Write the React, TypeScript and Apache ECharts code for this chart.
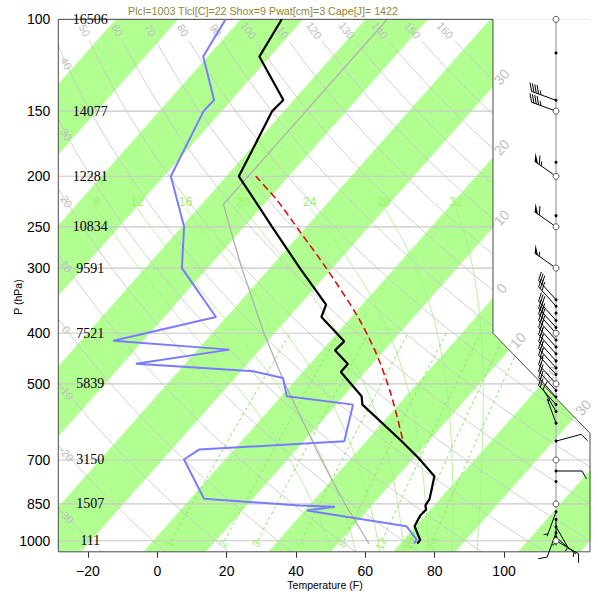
import React, { useEffect, useRef } from "react";
import * as echarts from "echarts";

// ---------------- data ----------------
const TITLE = "Plcl=1003 Tlcl[C]=22 Shox=9 Pwat[cm]=3 Cape[J]= 1422";
const PRESSURE_TICKS = [100, 150, 200, 250, 300, 400, 500, 700, 850, 1000];
const HEIGHT_LABELS = ["16506", "14077", "12281", "10834", "9591", "7521", "5839", "3150", "1507", "111"];
const TEMP_TICKS_F = [-20, 0, 20, 40, 60, 80, 100];

// sounding temperature (hPa, degC)
const TEMP_P = [100, 117.9, 142.8, 150, 200, 250, 300, 352.6, 372.3, 414.6, 431.4, 458.1, 474.5, 528.5, 548.2, 644.5, 693.4, 752, 833.4, 855.7, 871, 894.5, 937.6, 997.3, 1012];
const TEMP_C = [-73.4, -71.7, -61.7, -61.9, -58.0, -45.5, -35.2, -25.8, -24.8, -17.7, -17.9, -13.9, -13.9, -7.1, -5.8, 5.7, 10.7, 15.9, 18.4, 18.6, 19.3, 19.2, 19.8, 22.7, 22.7];
// dew point
const DEW_P = [100, 117.9, 142.8, 150, 200, 250, 300, 372.3, 413.3, 430, 457.5, 473.3, 487.3, 528.5, 548.2, 644.5, 668.5, 698.6, 830.9, 855.7, 860.7, 875, 937.6, 994.3, 1012];
const DEW_C = [-82.4, -80.7, -72.8, -72.9, -68.9, -59.6, -54.1, -41.7, -54.8, -34.9, -47.9, -28.0, -22.3, -19.1, -7.3, -3.5, -25.6, -26.6, -17.8, -1.5, 4.3, 0.3, 18.5, 22.0, 22.2];
// lifted parcel
const PARCEL_P = [200, 221.9, 255.2, 297.8, 368.5, 439.6, 528.5, 649];
const PARCEL_C = [-55.3, -48.6, -40.4, -31.4, -19.5, -10.6, -2.3, 6.2];
// standard atmosphere
const STD_P = [1013.25, 1000, 850, 700, 500, 400, 300, 250, 226.3, 200, 150, 100];
const STD_C = [15.0, 14.3, 5.5, -4.5, -21.2, -31.7, -44.5, -52.3, -56.5, -56.5, -56.5, -56.5];

// background families
const BAND_LOW_C = [-120, -100, -80, -60, -40, -20, 0, 20, 40];
const THETA_C = [-30, -20, -10, 0, 10, 20, 30, 40, 50, 60, 70, 80, 90, 100, 110, 120, 130, 140, 150, 160];
const MOIST_C = [8, 12, 16, 20, 24, 28, 32];
const MIXR = [1, 2, 3, 5, 8, 12, 16, 20];
const ISO_LABEL_C = [-30, -20, -10, 0, 10, 20, 30];

// winds (hPa, direction deg, speed kt)
const WIND_P = [100, 116, 143, 150, 188, 200, 238, 250, 300, 345, 355, 366, 378, 390, 400, 412, 425, 438, 452, 466, 480, 500, 515, 530, 548, 565, 595, 644, 700, 735, 770, 850, 880, 910, 940, 965, 985, 1000];
const WIND_DIR = [0, 0, 290, 290, 0, 305, 0, 305, 305, 318, 318, 318, 318, 318, 318, 318, 318, 318, 318, 318, 318, 318, 318, 318, 318, 330, 340, 75, 0, 90, 0, 0, 200, 180, 150, 200, 130, 120];
const WIND_KT = [0, 0, 45, 45, 0, 65, 0, 60, 55, 30, 30, 0, 30, 30, 30, 30, 25, 25, 25, 25, 25, 20, 20, 20, 20, 10, 5, 10, 0, 10, 0, 0, 5, 5, 5, 10, 5, 10];

// ---------------- geometry helpers ----------------
const X_MIN = -28.55;
const X_MAX = 124.8;
const X_CUT = 96.82;
const P_CORNER_A = 400;
const P_CORNER_B = 622;
const STAFF_X = 115.0;
const HEIGHT_LABEL_X = -19.3;
const LN_TOP = Math.log(100);
const LN_BOT = Math.log(1050);
const SKEW = 57.85;
const xOf = (tc: number, p: number) => tc * 1.8 + 32 + SKEW * Math.log(1050 / p);

const geomP = (p0: number, p1: number, n: number) => {
  const out: number[] = [];
  const a = Math.log(p0), b = Math.log(p1);
  for (let i = 0; i <= n; i++) out.push(Math.exp(a + ((b - a) * i) / n));
  return out;
};

const dTdlnp = (T: number, p: number) => {
  const tc = T - 273.15;
  const es = 6.112 * Math.exp((17.67 * tc) / (tc + 243.5));
  const rs = (0.622 * es) / (p - es);
  const Lv = 2.501e6, Rd = 287.04, cp = 1005.7;
  return (Rd * T + Lv * rs) / (cp + (Lv * Lv * rs * 0.622) / (Rd * T * T));
};
const stepT = (T: number, lp: number, h: number) => {
  const k1 = dTdlnp(T, Math.exp(lp));
  const k2 = dTdlnp(T + 0.5 * h * k1, Math.exp(lp + 0.5 * h));
  const k3 = dTdlnp(T + 0.5 * h * k2, Math.exp(lp + 0.5 * h));
  const k4 = dTdlnp(T + h * k3, Math.exp(lp + h));
  return T + (h * (k1 + 2 * k2 + 2 * k3 + k4)) / 6;
};
const moistProfile = (t1000: number, pList: number[]) => {
  let T = t1000 + 273.15;
  let lp = Math.log(1000);
  const out: number[] = [];
  for (const p of pList) {
    const target = Math.log(p);
    const n = Math.max(1, Math.ceil(Math.abs(target - lp) / 0.01));
    const h = (target - lp) / n;
    for (let i = 0; i < n; i++) {
      T = stepT(T, lp, h);
      lp += h;
    }
    out.push(T - 273.15);
  }
  return out;
};
const tmrC = (w: number, p: number) => {
  const x = Math.log10((w * p) / (622 + w));
  const tk = Math.pow(10, 0.0498646455 * x + 2.4082965) - 7.07475 + 38.9114 * Math.pow(Math.pow(10, 0.0915 * x) - 1.2035, 2);
  return tk - 273.15;
};
const dryT = (thC: number, p: number) => (thC + 273.15) * Math.pow(p / 1000, 0.2857) - 273.15;

const segInt = (p1: number[], p2: number[], p3: number[], p4: number[]) => {
  const d = (p2[0] - p1[0]) * (p4[1] - p3[1]) - (p2[1] - p1[1]) * (p4[0] - p3[0]);
  if (Math.abs(d) < 1e-9) return null;
  const t = ((p3[0] - p1[0]) * (p4[1] - p3[1]) - (p3[1] - p1[1]) * (p4[0] - p3[0])) / d;
  const u = ((p3[0] - p1[0]) * (p2[1] - p1[1]) - (p3[1] - p1[1]) * (p2[0] - p1[0])) / d;
  if (t < 0 || t > 1 || u < 0 || u > 1) return null;
  return [p1[0] + t * (p2[0] - p1[0]), p1[1] + t * (p2[1] - p1[1])];
};

const fmtNum = (v: number) => (v < 0 ? "\u2212" + Math.abs(v) : String(v));

const GREEN_BAND = "#b0ff90";
const GRAY_LINE = "#c4c4c4";
const GRAY_LABEL = "#c0c0c0";
const GREEN_LINE = "#a8ec8c";
const GREEN_DASH = "#86e65a";
const GREEN_LABEL = "#9cf06a";
const MOIST_TOP = 230;
const MOIST_LABEL_P = 224;

function buildOption(): any {
  const idx = (arr: any[]) => arr.map((_, i) => [i]);
  const series: any[] = [];

  series.push({
    type: "custom", coordinateSystem: "cartesian2d", z: 1, clip: true, silent: true,
    data: idx(BAND_LOW_C),
    renderItem: (params: any, api: any) => {
      const t1 = BAND_LOW_C[api.value(0)], t2 = t1 + 10;
      const pts = [
        api.coord([xOf(t1, 1050), LN_BOT]), api.coord([xOf(t2, 1050), LN_BOT]),
        api.coord([xOf(t2, 100), LN_TOP]), api.coord([xOf(t1, 100), LN_TOP]),
      ];
      return { type: "polygon", shape: { points: pts }, style: { fill: GREEN_BAND } };
    },
  });

  series.push({
    type: "custom", coordinateSystem: "cartesian2d", z: 2, clip: true, silent: true,
    data: idx(PRESSURE_TICKS),
    renderItem: (params: any, api: any) => {
      const lp = Math.log(PRESSURE_TICKS[api.value(0)]);
      return { type: "polyline", shape: { points: [api.coord([X_MIN, lp]), api.coord([X_MAX, lp])] }, style: { stroke: "#c8c8c8", lineWidth: 1.2, fill: null } };
    },
  });

  series.push({
    type: "custom", coordinateSystem: "cartesian2d", z: 2, clip: true, silent: true,
    data: idx(THETA_C),
    renderItem: (params: any, api: any) => {
      const th = THETA_C[api.value(0)];
      const pts = geomP(1050, 110, 60).map((p) => api.coord([xOf(dryT(th, p), p), Math.log(p)]));
      return { type: "polyline", shape: { points: pts }, style: { stroke: GRAY_LINE, lineWidth: 0.8, fill: null } };
    },
  });

  series.push({
    type: "custom", coordinateSystem: "cartesian2d", z: 2, clip: true, silent: true,
    data: idx(MOIST_C),
    renderItem: (params: any, api: any) => {
      const t0 = MOIST_C[api.value(0)];
      const ps = geomP(1050, MOIST_TOP, 50);
      const ts = moistProfile(t0, ps);
      const pts = ps.map((p, i) => api.coord([xOf(ts[i], p), Math.log(p)]));
      return { type: "polyline", shape: { points: pts }, style: { stroke: GREEN_LINE, lineWidth: 0.8, fill: null } };
    },
  });

  series.push({
    type: "custom", coordinateSystem: "cartesian2d", z: 2, clip: true, silent: true,
    data: idx(MIXR),
    renderItem: (params: any, api: any) => {
      const w = MIXR[api.value(0)];
      const pts = geomP(1000, 400, 30).map((p) => api.coord([xOf(tmrC(w, p), p), Math.log(p)]));
      return { type: "polyline", shape: { points: pts }, style: { stroke: GREEN_DASH, lineWidth: 1, fill: null, lineDash: [3, 3] } };
    },
  });

  series.push({
    type: "line", z: 3, silent: true, showSymbol: false, smooth: false,
    data: STD_P.map((p, i) => [xOf(STD_C[i], p), Math.log(p)]),
    lineStyle: { color: "#b0b0b0", width: 1.3 },
  });

  series.push({
    type: "custom", coordinateSystem: "cartesian2d", z: 4, clip: true, silent: true,
    data: [[0]],
    renderItem: (params: any, api: any) => {
      const pts = [
        api.coord([X_CUT, LN_TOP]), api.coord([X_MAX + 2, LN_TOP]), api.coord([X_MAX + 2, Math.log(P_CORNER_B)]),
        api.coord([X_MAX, Math.log(P_CORNER_B)]), api.coord([X_CUT, Math.log(P_CORNER_A)]),
      ];
      return { type: "polygon", shape: { points: pts }, style: { fill: "#ffffff" } };
    },
  });

  series.push({
    type: "custom", coordinateSystem: "cartesian2d", z: 5, clip: false, silent: true,
    data: [[0]],
    renderItem: (params: any, api: any) => {
      const pts = [
        api.coord([X_MIN, LN_TOP]), api.coord([X_CUT, LN_TOP]), api.coord([X_CUT, Math.log(P_CORNER_A)]),
        api.coord([X_MAX, Math.log(P_CORNER_B)]), api.coord([X_MAX, LN_BOT]), api.coord([X_MIN, LN_BOT]),
      ];
      return { type: "polygon", shape: { points: pts }, style: { fill: null, stroke: "#4a4a4a", lineWidth: 1 } };
    },
  });

  series.push({
    type: "custom", coordinateSystem: "cartesian2d", z: 6, clip: false, silent: true,
    data: idx(THETA_C),
    renderItem: (params: any, api: any) => {
      const th = THETA_C[api.value(0)];
      const at = (p: number) => api.coord([xOf(dryT(th, p), p), Math.log(p)]);
      const leftPx = api.coord([X_MIN, LN_TOP])[0];
      let p = 105;
      if (at(105)[0] < leftPx + 14) {
        let lo = 105, hi = 1050;
        for (let i = 0; i < 40; i++) {
          const mid = Math.sqrt(lo * hi);
          if (at(mid)[0] < leftPx + 8) lo = mid; else hi = mid;
        }
        p = Math.sqrt(lo * hi);
      }
      const a = at(p), b = at(p * 1.02);
      const ang = Math.atan2(b[1] - a[1], b[0] - a[0]);
      return {
        type: "text", x: a[0], y: a[1], rotation: -ang,
        style: { text: th < 0 ? "-" + Math.abs(th) : String(th), fill: GRAY_LABEL, fontSize: 11, fontFamily: "Liberation Sans", align: "center", verticalAlign: "middle" },
      };
    },
  });

  series.push({
    type: "custom", coordinateSystem: "cartesian2d", z: 6, clip: false, silent: true,
    data: idx(ISO_LABEL_C),
    renderItem: (params: any, api: any) => {
      const t = ISO_LABEL_C[api.value(0)];
      const a = api.coord([xOf(t, 1050), LN_BOT]);
      const b = api.coord([xOf(t, 100), LN_TOP]);
      const c1 = api.coord([X_CUT, LN_TOP]), c2 = api.coord([X_CUT, Math.log(P_CORNER_A)]), c3 = api.coord([X_MAX, Math.log(P_CORNER_B)]);
      const hit = segInt(a, b, c1, c2) || segInt(a, b, c2, c3);
      if (!hit) return null;
      const dx = b[0] - a[0], dy = b[1] - a[1];
      const len = Math.hypot(dx, dy);
      const x = hit[0] + (dx / len) * 13, y = hit[1] + (dy / len) * 13;
      return {
        type: "text", x, y, rotation: -Math.atan2(dy, dx),
        style: { text: String(Math.abs(t)), fill: GRAY_LABEL, fontSize: 14, fontFamily: "Liberation Sans", align: "center", verticalAlign: "middle" },
      };
    },
  });

  series.push({
    type: "custom", coordinateSystem: "cartesian2d", z: 6, clip: false, silent: true,
    data: idx(MOIST_C),
    renderItem: (params: any, api: any) => {
      const t0 = MOIST_C[api.value(0)];
      const ts = moistProfile(t0, [MOIST_TOP]);
      const x = api.coord([xOf(ts[0], MOIST_TOP), Math.log(MOIST_TOP)])[0];
      const y = api.coord([0, Math.log(MOIST_LABEL_P)])[1];
      return { type: "text", x, y, style: { text: String(t0), fill: GREEN_LABEL, fontSize: 12, fontFamily: "Liberation Sans", align: "center", verticalAlign: "middle" } };
    },
  });

  series.push({
    type: "custom", coordinateSystem: "cartesian2d", z: 6, clip: false, silent: true,
    data: idx(MIXR),
    renderItem: (params: any, api: any) => {
      const w = MIXR[api.value(0)];
      const a = api.coord([xOf(tmrC(w, 1013), 1013), Math.log(1013)]);
      const b = api.coord([xOf(tmrC(w, 900), 900), Math.log(900)]);
      const ang = Math.atan2(b[1] - a[1], b[0] - a[0]);
      return { type: "text", x: a[0], y: a[1], rotation: -ang, style: { text: String(w), fill: GREEN_LABEL, fontSize: 11, fontFamily: "Liberation Sans", align: "center", verticalAlign: "middle" } };
    },
  });

  series.push({
    type: "custom", coordinateSystem: "cartesian2d", z: 6, clip: false, silent: true,
    data: idx(HEIGHT_LABELS),
    renderItem: (params: any, api: any) => {
      const i = api.value(0);
      const c = api.coord([HEIGHT_LABEL_X, Math.log(PRESSURE_TICKS[i])]);
      return { type: "text", x: c[0], y: c[1], style: { text: HEIGHT_LABELS[i], fill: "#000", fontSize: 14, fontFamily: "Liberation Serif", align: "center", verticalAlign: "middle" } };
    },
  });

  series.push({
    type: "line", z: 8, silent: true, showSymbol: false,
    data: DEW_P.map((p, i) => [xOf(DEW_C[i], p), Math.log(p)]),
    lineStyle: { color: "#7b7bff", width: 2 },
  });
  series.push({
    type: "line", z: 9, silent: true, showSymbol: false, smooth: 0.3,
    data: PARCEL_P.map((p, i) => [xOf(PARCEL_C[i], p), Math.log(p)]),
    lineStyle: { color: "#e00000", width: 1.5, type: [7, 4] },
  });
  series.push({
    type: "line", z: 10, silent: true, showSymbol: false,
    data: TEMP_P.map((p, i) => [xOf(TEMP_C[i], p), Math.log(p)]),
    lineStyle: { color: "#000", width: 2.2 },
  });

  series.push({
    type: "line", z: 11, silent: true, showSymbol: false,
    data: [[STAFF_X, LN_TOP], [STAFF_X, Math.log(1000)]],
    lineStyle: { color: "#c4c4c4", width: 2 },
  });

  series.push({
    type: "custom", coordinateSystem: "cartesian2d", z: 12, clip: false, silent: true,
    data: idx(WIND_P),
    renderItem: (params: any, api: any) => {
      const i = api.value(0);
      const p = WIND_P[i], dir = WIND_DIR[i], kt = WIND_KT[i];
      const [cx, cy] = api.coord([STAFF_X, Math.log(p)]);
      const children: any[] = [];
      if (kt >= 2.5) {
        const L = 26;
        const r = (dir * Math.PI) / 180;
        const ux = Math.sin(r), uy = -Math.cos(r);
        const tx = cx + ux * L, ty = cy + uy * L;
        children.push({ type: "line", shape: { x1: cx, y1: cy, x2: tx, y2: ty }, style: { stroke: "#000", lineWidth: 1 } });
        const a = Math.PI / 3;
        const fx = ux * Math.cos(a) - uy * Math.sin(a), fy = ux * Math.sin(a) + uy * Math.cos(a);
        let rem = Math.round(kt / 5) * 5;
        let pos = 0;
        const FL = 9;
        while (rem >= 50) {
          const b1 = [tx - ux * pos, ty - uy * pos];
          const b2 = [tx - ux * (pos + 4), ty - uy * (pos + 4)];
          children.push({ type: "polygon", shape: { points: [b1, b2, [b1[0] + fx * FL, b1[1] + fy * FL]] }, style: { fill: "#000" } });
          pos += 5.5;
          rem -= 50;
        }
        while (rem >= 10) {
          const b = [tx - ux * pos, ty - uy * pos];
          children.push({ type: "line", shape: { x1: b[0], y1: b[1], x2: b[0] + fx * FL, y2: b[1] + fy * FL }, style: { stroke: "#000", lineWidth: 1 } });
          pos += 2.5;
          rem -= 10;
        }
        if (rem >= 5) {
          if (pos === 0) pos = 2.5;
          const b = [tx - ux * pos, ty - uy * pos];
          children.push({ type: "line", shape: { x1: b[0], y1: b[1], x2: b[0] + fx * FL * 0.5, y2: b[1] + fy * FL * 0.5 }, style: { stroke: "#000", lineWidth: 1 } });
        }
      }
      if (PRESSURE_TICKS.indexOf(p) >= 0) {
        children.push({ type: "circle", shape: { cx, cy, r: 3 }, style: { fill: "#fff", stroke: "#555", lineWidth: 1 } });
      } else {
        children.push({ type: "circle", shape: { cx, cy, r: 1.5 }, style: { fill: "#000" } });
      }
      return { type: "group", children };
    },
  });

  return {
    animation: false,
    backgroundColor: "#ffffff",
    grid: { left: 58.3, top: 19.3, width: 531.7, height: 532.5, containLabel: false },
    xAxis: {
      type: "value", min: X_MIN, max: X_MAX,
      axisLine: { show: false },
      splitLine: { show: false },
      axisTick: { show: true, customValues: TEMP_TICKS_F, length: 6, lineStyle: { color: "#333", width: 1 } },
      axisLabel: { customValues: TEMP_TICKS_F, formatter: (v: number) => fmtNum(Math.round(v)), fontSize: 14, fontFamily: "Liberation Sans", color: "#000", margin: 12 },
    },
    yAxis: {
      type: "value", inverse: true, min: LN_TOP, max: LN_BOT,
      axisLine: { show: false },
      splitLine: { show: false },
      axisTick: { show: false },
      axisLabel: { customValues: PRESSURE_TICKS.map((p) => Math.log(p)), formatter: (v: number) => String(Math.round(Math.exp(v))), fontSize: 14, fontFamily: "Liberation Sans", color: "#000", margin: 8 },
    },
    graphic: [
      { type: "text", x: 263, y: 11, z: 20, style: { text: TITLE, fill: "#8e8638", fontSize: 10.7, fontFamily: "Liberation Sans", align: "center", verticalAlign: "middle" } },
      { type: "text", x: 325, y: 585, z: 20, style: { text: "Temperature (F)", fill: "#000", fontSize: 10.5, fontFamily: "Liberation Sans", align: "center", verticalAlign: "middle" } },
      { type: "text", x: 18, y: 297, z: 20, rotation: Math.PI / 2, style: { text: "P (hPa)", fill: "#000", fontSize: 10.5, fontFamily: "Liberation Sans", align: "center", verticalAlign: "middle" } },
    ],
    series,
  };
}

export default function App() {
  const ref = useRef<HTMLDivElement>(null);
  useEffect(() => {
    const chart = echarts.init(ref.current as HTMLDivElement, null, { renderer: "svg" });
    chart.setOption(buildOption());
    return () => chart.dispose();
  }, []);
  return <div ref={ref} style={{ position: "absolute", left: 0, top: 0, width: 598, height: 596 }} />;
}
